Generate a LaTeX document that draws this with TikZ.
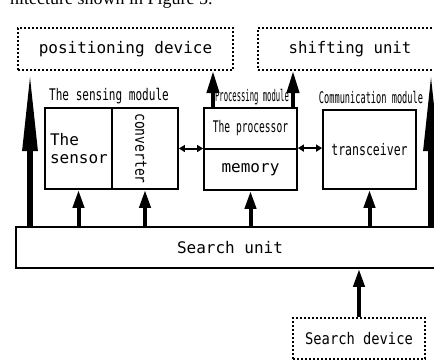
\documentclass[tikz,border=0pt]{standalone}
\usepackage{fontspec}
\usepackage{graphicx}
\usetikzlibrary{arrows.meta}
\newfontfamily\boxfont{DejaVu Sans Mono}
\newfontfamily\pagefont{Liberation Serif}
\newcommand{\squeeze}[2]{\scalebox{#1}[1]{#2}}

\tikzset{
  boxtext/.style={font=\boxfont\fontsize{16}{18}\selectfont},
  dotbox/.style={draw, line width=2pt, dash pattern=on 1.8pt off 2.2pt, inner sep=0pt, boxtext},
  unitbox/.style={draw, line width=1.8pt, inner sep=0pt, boxtext},
  tag/.style={inner sep=0pt, boxtext},
  bigarrow/.style={line width=6pt, -{Triangle[length=80pt,width=14pt]}},
  uparrow/.style={line width=4pt, -{Triangle[length=18pt,width=11pt]}},
  procarrow/.style={line width=4pt, -{Triangle[length=22pt,width=12pt]}},
  linkarrow/.style={line width=2pt, {Triangle[length=6pt,width=7pt]}-{Triangle[length=6pt,width=7pt]}},
}

\begin{document}
\begin{tikzpicture}[x=1pt,y=-1pt]
  \useasboundingbox (0,0) rectangle (434,362);
  \node[inner sep=0pt, anchor=base west, font=\pagefont\fontsize{18}{20}\selectfont] (pagetext) at (10,4.5) {hitecture shown in Figure 5.};

  % outer devices
  \node[dotbox, minimum width=215pt, minimum height=42pt] (posdev) at (125.5,49) {positioning device};
  \node[dotbox, minimum width=184pt, minimum height=42pt] (shift) at (350,49) {\squeeze{0.98}{shifting unit}};
  \node[dotbox, minimum width=132pt, minimum height=41pt] (searchdev) at (359,338.5) {\squeeze{0.86}{Search device}};
  \node[unitbox, minimum width=428pt, minimum height=41pt] (search) at (230,247.5) {Search unit};

  % module titles
  \node[tag] (senslabel) at (109,96) {\squeeze{0.69}{The sensing module}};
  \node[tag] (proclabel) at (252,97) {\squeeze{0.45}{Processing module}};
  \node[tag] (commlabel) at (371,97) {\squeeze{0.54}{Communication module}};

  % sensing module
  \node[unitbox, minimum width=67pt, minimum height=81pt, text width=57pt, align=left] (sensor) at (78.5,148.5) {The\\sensor};
  \node[unitbox, minimum width=66pt, minimum height=81pt] (conv) at (145,148.5) {};
  \node[tag, rotate=-90] (convtext) at ([xshift=-4pt]conv.center) {\squeeze{0.81}{converter}};

  % processing module
  \node[unitbox, minimum width=93pt, minimum height=41pt] (proc) at (250.5,128.5) {\squeeze{0.6}{The processor}};
  \node[unitbox, minimum width=93pt, minimum height=41pt] (memory) at (250.5,169.5) {memory};

  % communication module
  \node[unitbox, minimum width=93pt, minimum height=79pt] (trans) at (369.5,149.5) {\squeeze{0.72}{transceiver}};

  \coordinate (lft) at (30,0);
  \coordinate (rgt) at (431,0);
  \coordinate (pa) at (213,0);
  \coordinate (pb) at (293,0);

  \draw[bigarrow] (search.north -| lft) -- (posdev.south -| lft);
  \draw[bigarrow] (search.north -| rgt) -- (shift.south -| rgt);
  \draw[procarrow] (proc.north -| pa) -- (posdev.south -| pa);
  \draw[procarrow] (proc.north -| pb) -- (shift.south -| pb);

  \draw[uparrow] (search.north -| sensor) -- (sensor.south);
  \draw[uparrow] (search.north -| conv) -- (conv.south);
  \draw[uparrow] (search.north -| memory) -- (memory.south);
  \draw[uparrow] (search.north -| trans) -- (trans.south);
  \draw[uparrow] (searchdev.north) -- (searchdev.north |- search.south);

  \draw[linkarrow] (conv.east) -- (conv.east -| proc.west);
  \draw[linkarrow] (memory.north east) -- (memory.north east -| trans.west);
\end{tikzpicture}
\end{document}
